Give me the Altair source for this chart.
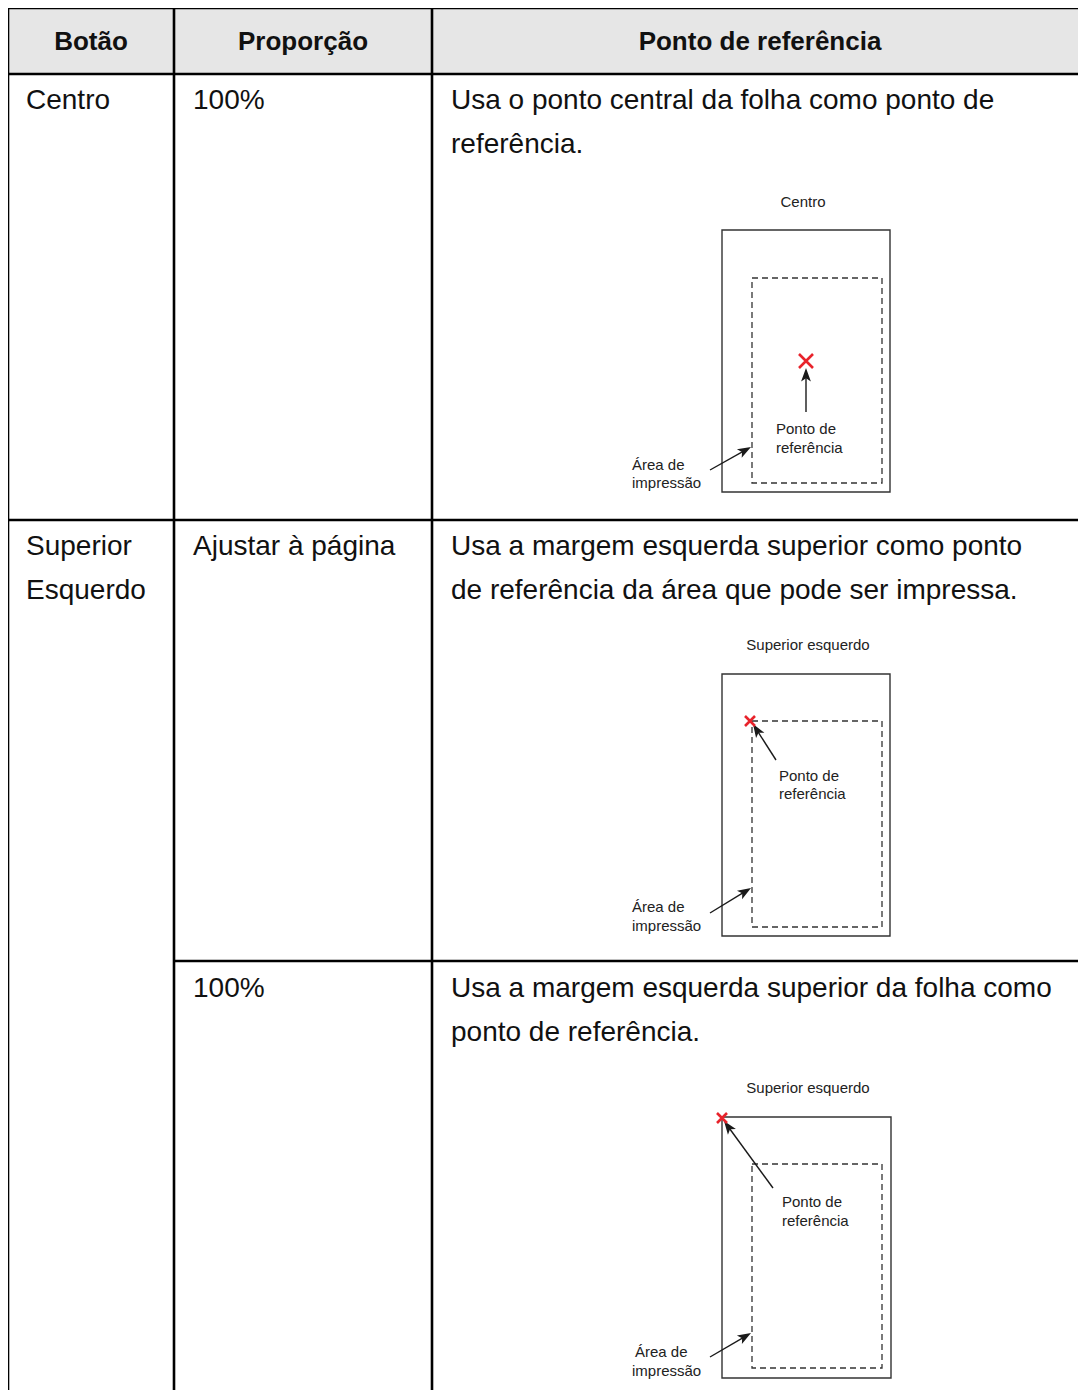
import math
import altair as alt
import pandas as pd

# ---------------- table text ----------------
header_labels = ["Botão", "Proporção", "Ponto de referência"]
header_x = [91, 303, 760]
header_y = [50, 50, 50]

body_lines = [
    "Centro", "100%",
    "Usa o ponto central da folha como ponto de", "referência.",
    "Superior", "Esquerdo", "Ajustar à página",
    "Usa a margem esquerda superior como ponto",
    "de referência da área que pode ser impressa.",
    "100%",
    "Usa a margem esquerda superior da folha como", "ponto de referência.",
]
body_x = [26, 193, 451, 451, 26, 26, 193, 451, 451, 193, 451, 451]
body_y = [109, 109, 109, 153, 555, 599, 555, 555, 599, 997, 997, 1041]

# ---------------- table grid (layout) ----------------
grid_x1 = [8, 8, 8, 174, 8, 174, 432]
grid_y1 = [8, 74, 520, 961, 8, 8, 8]
grid_x2 = [1090, 1090, 1090, 1090, 8, 174, 432]
grid_y2 = [8, 74, 520, 961, 1400, 1400, 1400]
head_box = [8, 8, 1090, 74]

# ---------------- diagrams (layout) ----------------
diagram_titles = ["Centro", "Superior esquerdo", "Superior esquerdo"]
title_x = [803, 808, 808]
title_y = [207, 650, 1093]

sheet_x1 = [722, 722, 722]
sheet_x2 = [890, 890, 891]
sheet_y1 = [230, 674, 1117]
sheet_y2 = [492, 936, 1378]

print_x1 = [752, 752, 752]
print_x2 = [882, 882, 882]
print_y1 = [278, 721, 1164]
print_y2 = [483, 927, 1368]

callout_text = ["Ponto de", "referência", "Área de", "impressão"] * 3
callout_x = [776, 776, 632, 632, 779, 779, 632, 632, 782, 782, 635, 632]
callout_y = [434, 453, 470, 488, 781, 799, 912, 931, 1207, 1226, 1357, 1376]

arrow_x1 = [806, 710, 776, 710, 773, 710]
arrow_y1 = [412, 470, 760, 913, 1188, 1357]
arrow_x2 = [806, 751, 753, 751, 724, 751]
arrow_y2 = [368, 447, 724, 888, 1121, 1333]

cross_x = [806, 750, 722]
cross_y = [361, 721, 1118]
cross_half = [7, 5, 5]

# ---------------- frames ----------------
W, H = 1070, 1382
X = alt.Scale(domain=[8, 8 + W], nice=False, zero=False)
Y = alt.Scale(domain=[8, 8 + H], nice=False, zero=False, reverse=True)
FONT = "Liberation Sans"

grid_df = pd.DataFrame({"x1": grid_x1, "y1": grid_y1, "x2": grid_x2, "y2": grid_y2})
head_df = pd.DataFrame({"x1": [head_box[0]], "y1": [head_box[1]], "x2": [head_box[2]], "y2": [head_box[3]]})
hdr_df = pd.DataFrame({"t": header_labels, "x": header_x, "y": header_y})
body_df = pd.DataFrame({"t": body_lines, "x": body_x, "y": body_y})
ttl_df = pd.DataFrame({"t": diagram_titles, "x": title_x, "y": title_y})
sheet_df = pd.DataFrame({"x1": sheet_x1, "x2": sheet_x2, "y1": sheet_y1, "y2": sheet_y2})
print_df = pd.DataFrame({"x1": print_x1, "x2": print_x2, "y1": print_y1, "y2": print_y2})
call_df = pd.DataFrame({"t": callout_text, "x": callout_x, "y": callout_y})
cross_df = pd.DataFrame({"x": cross_x, "y": cross_y,
                         "s": [(2 * h) ** 2 for h in cross_half]})

rows = []
for a, b, c, d in zip(arrow_x1, arrow_y1, arrow_x2, arrow_y2):
    dx, dy = c - a, d - b
    L = math.hypot(dx, dy)
    ux, uy = dx / L, dy / L
    ang = math.degrees(math.atan2(dx, -dy)) % 360
    rows.append({"x1": a, "y1": b, "x2": c - ux * 9, "y2": d - uy * 9,
                 "tx": c, "ty": d, "ang": ang})
arr_df = pd.DataFrame(rows)


def xy(df, x="x1", y="y1"):
    return dict(x=alt.X(f"{x}:Q", scale=X, axis=None), y=alt.Y(f"{y}:Q", scale=Y, axis=None))


head_fill = alt.Chart(head_df).mark_rect(fill="#e6e6e6").encode(
    **xy(head_df), x2="x2:Q", y2="y2:Q")

grid = alt.Chart(grid_df).mark_rule(color="#000000", strokeWidth=2.6).encode(
    **xy(grid_df), x2="x2:Q", y2="y2:Q")

hdr = alt.Chart(hdr_df).mark_text(font=FONT, fontSize=26, fontWeight="bold", align="center",
                                  baseline="alphabetic", color="#111111").encode(
    **xy(hdr_df, "x", "y"), text="t:N")

body = alt.Chart(body_df).mark_text(font=FONT, fontSize=28, align="left",
                                    baseline="alphabetic", color="#111111").encode(
    **xy(body_df, "x", "y"), text="t:N")

ttl = alt.Chart(ttl_df).mark_text(font=FONT, fontSize=15, align="center",
                                  baseline="alphabetic", color="#222222").encode(
    **xy(ttl_df, "x", "y"), text="t:N")

sheet = alt.Chart(sheet_df).mark_rect(filled=False, stroke="#333333", strokeWidth=1.4).encode(
    **xy(sheet_df), x2="x2:Q", y2="y2:Q")

parea = alt.Chart(print_df).mark_rect(filled=False, stroke="#333333", strokeWidth=1.3,
                                      strokeDash=[6, 4]).encode(
    **xy(print_df), x2="x2:Q", y2="y2:Q")

call = alt.Chart(call_df).mark_text(font=FONT, fontSize=15, align="left",
                                    baseline="alphabetic", color="#222222").encode(
    **xy(call_df, "x", "y"), text="t:N")

shaft = alt.Chart(arr_df).mark_rule(color="#1a1a1a", strokeWidth=1.4).encode(
    **xy(arr_df), x2="x2:Q", y2="y2:Q")

head = alt.Chart(arr_df).mark_point(
    shape="M0,0L0.55,1.5L0,1.15L-0.55,1.5Z", filled=True, fill="#1a1a1a",
    strokeWidth=0, opacity=1, size=320).encode(
    **xy(arr_df, "tx", "ty"), angle=alt.Angle("ang:Q", scale=None))

cross = alt.Chart(cross_df).mark_point(
    shape="M-1,-1L1,1M1,-1L-1,1", filled=False, stroke="#e8232b",
    strokeWidth=2.6, opacity=1).encode(
    **xy(cross_df, "x", "y"), size=alt.Size("s:Q", scale=None))

chart = alt.layer(head_fill, grid, hdr, body, ttl, sheet, parea, call, shaft, head, cross).properties(
    width=W, height=H, padding=0, autosize=alt.AutoSizeParams(type="none"), background="white"
).configure_view(strokeWidth=0)

chart.save("out.html", embed_options={"renderer": "svg", "actions": False})
